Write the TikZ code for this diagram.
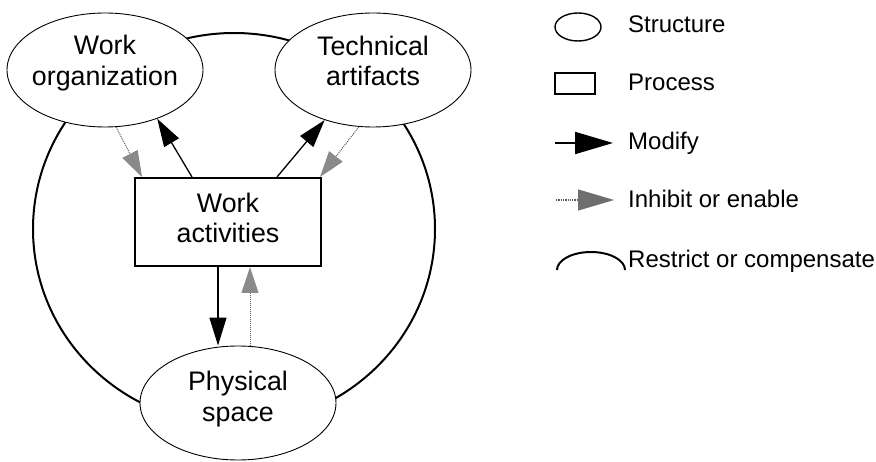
\documentclass[tikz,border=0pt]{standalone}
\usepackage{fontspec}
\setmainfont{Liberation Sans}
\usetikzlibrary{arrows.meta,positioning,shapes.geometric}
\definecolor{trama}{HTML}{8A8A8A}
\definecolor{punteo}{HTML}{5A5A5A}

\begin{document}
\begin{tikzpicture}[x=1pt,y=-1pt,
    struct/.style={ellipse,draw,fill=white,line width=0.9pt,
        minimum width=196pt,minimum height=114pt,inner sep=0pt},
    proc/.style={rectangle,draw,fill=white,line width=2pt,
        minimum width=186pt,minimum height=88pt,inner sep=0pt},
    lbl/.style={align=center,inner sep=0pt,font=\fontsize{26.8}{30.5}\selectfont},
    leg/.style={anchor=base west,inner sep=0pt,font=\fontsize{24}{28}\selectfont},
    modify/.style={line width=1.3pt,-{Triangle[length=28pt,width=17pt]}},
    inhibit/.style={densely dotted,line width=1pt,draw=punteo,
        -{Triangle[length=26pt,width=17pt,color=trama]}}]
    \useasboundingbox (0,0) rectangle (876,462);

    % ---- Arco exterior (restringir o compensar) ----
    \draw[line width=2pt] (234,229) ellipse[x radius=201,y radius=196];

    % ---- Estructuras y proceso ----
    \node[struct] (org)  at (105,70)  {};
    \node[struct] (tech) at (373,70)  {};
    \node[struct] (phys) at (238,403) {};
    \node[proc]   (act)  at (228,222) {};

    \node[lbl] (org-t)  at ([yshift=7pt]org.center)  {Work\\organization};
    \node[lbl] (tech-t) at ([yshift=9pt]tech.center) {Technical\\artifacts};
    \node[lbl] (phys-t) at ([yshift=4pt]phys.center) {Physical\\space};
    \node[lbl] (act-t)  at ([yshift=4pt]act.center)  {Work\\activities};

    % ---- Modificar ----
    \draw[modify] ([xshift=-36pt]act.north) -- (org.-43);
    \draw[modify] ([xshift=49pt]act.north) -- (tech.-134);
    \draw[modify] ([xshift=-10pt]act.south) -- ([xshift=-10pt]act.south |- phys.north);

    % ---- Inhibir o habilitar ----
    \draw[inhibit] (org.-79) -- ([xshift=8pt]act.north west);
    \draw[inhibit] (tech.-104) -- ([xshift=-2pt]act.north east);
    \draw[inhibit] ([xshift=22pt]act.south |- phys.north) -- ([xshift=22pt]act.south);

    % ---- Leyenda ----
    \node[struct,minimum width=46pt,minimum height=28pt,line width=1.4pt] (l-struct) at (578,27) {};
    \node[leg] (l-struct-t) at (628,33) {Structure};
    \node[proc,minimum width=40pt,minimum height=21pt,line width=2.4pt] (l-proc) at (575,83.5) {};
    \node[leg] (l-proc-t) at (628,91) {Process};

    \coordinate (l-mod-a) at (555,143);
    \coordinate (l-mod-b) at (613,143);
    \draw[line width=2pt,-{Triangle[length=38pt,width=22pt]}] (l-mod-a) -- (l-mod-b);
    \node[leg] (l-mod-t) at (628,150) {Modify};

    \coordinate (l-inh-a) at (556,200);
    \coordinate (l-inh-b) at (614,200);
    \draw[densely dotted,line width=1.3pt,draw=punteo,
        -{Triangle[length=36pt,width=21pt,color=trama!80!black]}] (l-inh-a) -- (l-inh-b);
    \node[leg] (l-inh-t) at (628,208) {Inhibit or enable};

    \coordinate (l-res-a) at (557,270);
    \draw[line width=2pt] (l-res-a) arc[start angle=180,end angle=0,x radius=34pt,y radius=18pt];
    \node[leg] (l-res-t) at (628,268) {Restrict or compensate};

\end{tikzpicture}
\end{document}
